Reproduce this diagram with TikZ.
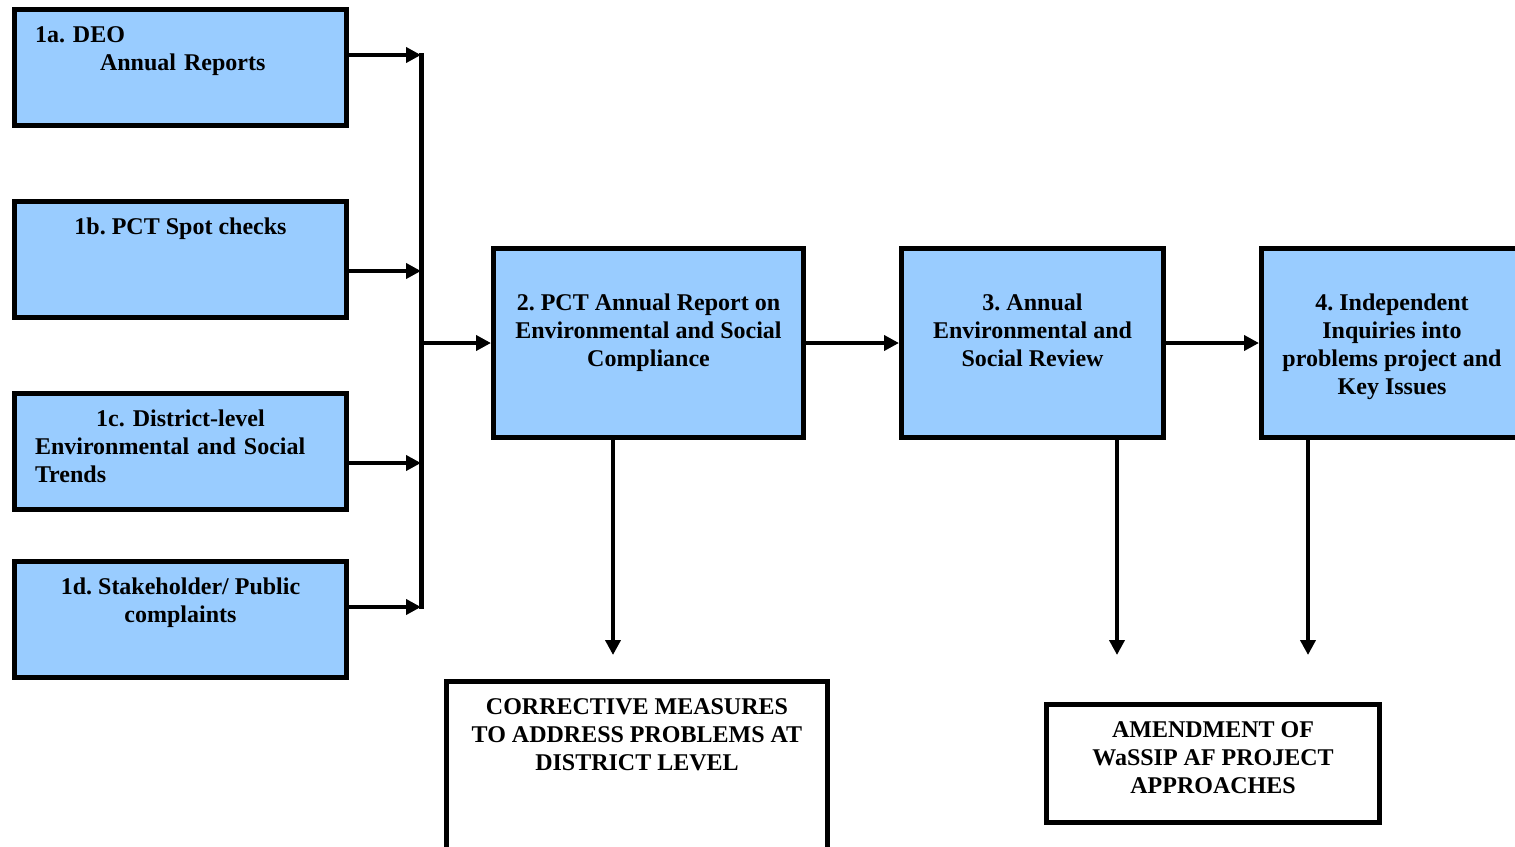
\documentclass[tikz,border=0pt]{standalone}
\usepackage{fontspec}
\setmainfont{Liberation Serif}
\usetikzlibrary{arrows.meta}
\frenchspacing
\definecolor{boxblue}{RGB}{153,204,255}
\tikzstyle{stage}=[draw,line width=2.5pt,fill=boxblue,inner sep=0pt]
\tikzstyle{outcome}=[draw,line width=2.5pt,fill=white,inner sep=0pt]
\tikzstyle{boxtext}=[font=\bfseries\fontsize{12}{14}\selectfont,align=center,inner sep=0pt,anchor=north]
\tikzstyle{flow}=[line width=2pt,-{Triangle[length=7.5pt,width=7.5pt]}]

\begin{document}
\begin{tikzpicture}[x=0.5pt,y=-0.5pt]
	\useasboundingbox (0,0) rectangle (1515,846);
	\clip (0,0) rectangle (1515,846);
	\tikzstyle{small}=[stage,minimum width=166pt,minimum height=58pt]
	\tikzstyle{big}=[stage,minimum height=94.5pt]
	% inputs
	\node [small,label={[boxtext,align=left,text width=145.5pt,yshift=-7.7pt]north:{\strut 1a. DEO\\\hspace*{32.5pt}Annual Reports}}] (b1a) at (180.5,67.5) {};
	\node [small,label={[boxtext,yshift=-7.7pt]north:{\strut 1b. PCT Spot checks}}] (b1b) at (180.5,259.5) {};
	\node [small,label={[boxtext,align=left,text width=145.5pt,yshift=-7.7pt]north:{\strut\makebox[\hsize]{1c. District-level}\\Environmental and Social\\Trends}}] (b1c) at (180.5,451.5) {};
	\node [small,label={[boxtext,yshift=-7.7pt]north:{\strut 1d. Stakeholder/ Public\\complaints}}] (b1d) at (180.5,619.5) {};
	% main chain
	\node [big,minimum width=155pt,label={[boxtext,yshift=-22pt]north:{\strut 2. PCT Annual Report on\\Environmental and Social\\Compliance}}] (b2) at (648.5,343) {};
	\node [big,minimum width=131pt,label={[boxtext,yshift=-22pt]north:{\strut 3. Annual\\Environmental and\\Social Review}}] (b3) at (1032.5,343) {};
	\node [big,minimum width=130.5pt,label={[boxtext,yshift=-22pt]north:{\strut 4. Independent\\Inquiries into\\problems project and\\Key Issues}}] (b4) at (1392,343) {};
	% outcomes
	\node [outcome,minimum width=190.5pt,minimum height=85.25pt,label={[boxtext,yshift=-7.7pt]north:{\strut CORRECTIVE MEASURES\\TO ADDRESS PROBLEMS AT\\DISTRICT LEVEL}}] (b5) at (637,766.75) {};
	\node [outcome,minimum width=166.5pt,minimum height=59pt,label={[boxtext,yshift=-7.7pt]north:{\strut AMENDMENT OF\\WaSSIP AF PROJECT\\APPROACHES}}] (b6) at (1213,763.5) {};
	% collector bar
	\coordinate (j1) at (421,55);
	\coordinate (j2) at (421,271);
	\coordinate (j3) at (421,463);
	\coordinate (j4) at (421,607);
	\draw [line width=2.5pt] ([yshift=1pt]j1) -- ([yshift=-1pt]j4);
	\draw [flow] (b1a.east |- j1) -- (j1);
	\draw [flow] (b1b.east |- j2) -- (j2);
	\draw [flow] (b1c.east |- j3) -- (j3);
	\draw [flow] (b1d.east |- j4) -- (j4);
	\draw [flow] (j1 |- b2.west) -- (b2.west);
	\draw [flow] (b2.east) -- (b3.west);
	\draw [flow] (b3.east) -- (b4.west);
	% down arrows
	\coordinate (e2) at (613,655);
	\coordinate (e3) at (1117,655);
	\coordinate (e4) at (1308,655);
	\draw [flow] (b2.south -| e2) -- (e2);
	\draw [flow] (b3.south -| e3) -- (e3);
	\draw [flow] (b4.south -| e4) -- (e4);
\end{tikzpicture}
\end{document}
